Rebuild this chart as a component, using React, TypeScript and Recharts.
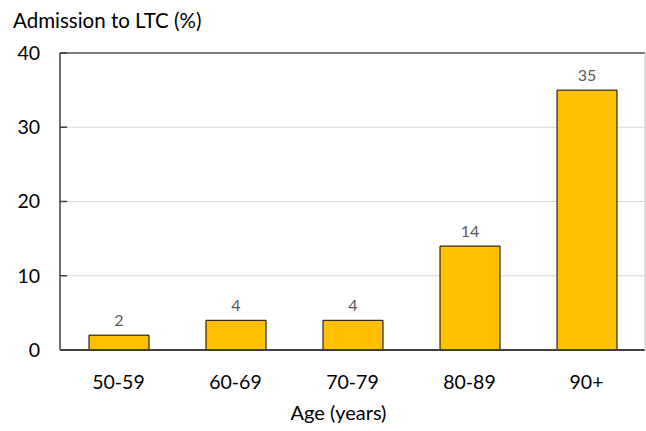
import { BarChart, Bar, XAxis, YAxis, CartesianGrid, LabelList, ReferenceLine } from 'recharts';

const ageGroups = ['50-59', '60-69', '70-79', '80-89', '90+'];
const admissionPct = [2, 4, 4, 14, 35];
const yTicks = [0, 10, 20, 30, 40];

const data = ageGroups.map((age, i) => ({ age, value: admissionPct[i] }));

const FONT = 'Lato, "Open Sans", sans-serif';

// y tick with a short inward tick mark drawn inside the plot
function YTick(props: any) {
  const { x, y, payload } = props;
  return (
    <g>
      <line x1={x + 20} x2={x + 27} y1={y} y2={y} stroke="#404040" strokeWidth={1.5} />
      <text x={x} y={y} dy="0.35em" textAnchor="end" fill="#000" fontSize={19.5} fontFamily={FONT}>
        {payload.value}
      </text>
    </g>
  );
}

export default function App() {
  return (
    <div style={{ position: 'absolute', left: 0, top: 0, width: 646, height: 431, background: '#fff' }}>
      <div style={{ position: 'absolute', left: 13, top: 6, fontFamily: FONT, fontSize: 20.5, color: '#000', lineHeight: '28px' }}>
        Admission to LTC (%)
      </div>
      <BarChart
        width={646}
        height={431}
        data={data}
        margin={{ top: 53, right: 0, left: 0, bottom: 0 }}
        style={{ fontFamily: FONT }}
      >
        <CartesianGrid vertical={false} stroke="#d9d9d9" strokeWidth={1} />
        <XAxis
          dataKey="age"
          height={81}
          tickLine={false}
          tickMargin={19}
          axisLine={{ stroke: '#404040', strokeWidth: 2 }}
          tick={{ fill: '#000', fontSize: 19.5, fontFamily: FONT }}
          label={{ value: 'Age (years)', position: 'insideBottom', offset: 11, dx: -14, fill: '#000', fontSize: 20, fontFamily: FONT }}
        />
        <YAxis
          width={60}
          domain={[0, 40]}
          ticks={yTicks}
          tickLine={false}
          tickSize={0}
          tickMargin={20}
          axisLine={{ stroke: '#404040', strokeWidth: 1.5 }}
          tick={<YTick />}
        />
        <YAxis
          yAxisId="right"
          orientation="right"
          width={1}
          domain={[0, 40]}
          tick={false}
          tickLine={false}
          axisLine={{ stroke: '#bfbfbf', strokeWidth: 1 }}
        />
        <ReferenceLine y={40} stroke="#595959" strokeWidth={1.5} />
        <Bar dataKey="value" fill="#FFC000" stroke="#000" strokeWidth={1} barSize={60} isAnimationActive={false}>
          <LabelList dataKey="value" position="top" offset={9} fill="#595959" fontSize={16} fontFamily={FONT} />
        </Bar>
      </BarChart>
    </div>
  );
}
